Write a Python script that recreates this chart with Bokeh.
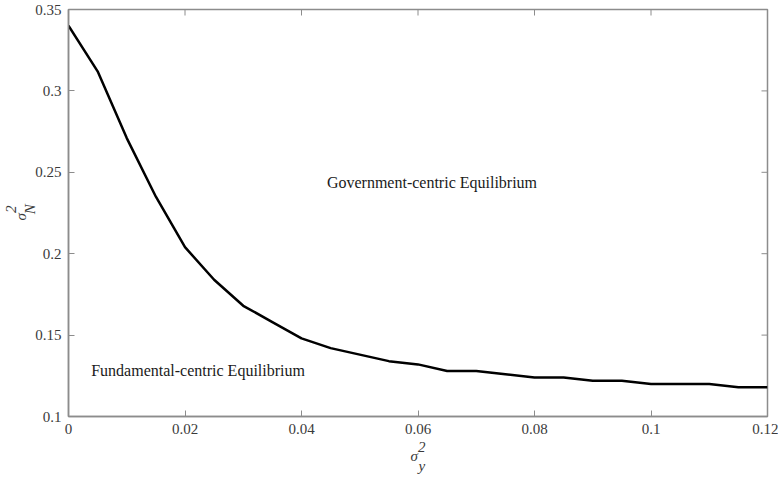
import numpy as np
from bokeh.plotting import figure
from bokeh.models import FixedTicker, Label, Range1d
from bokeh.embed import file_html
from bokeh.resources import INLINE

# ---- data ----
sigma_y2 = [0.0, 0.005, 0.01, 0.015, 0.02, 0.025, 0.03, 0.035, 0.04, 0.045, 0.05,
            0.055, 0.06, 0.065, 0.07, 0.075, 0.08, 0.085, 0.09, 0.095, 0.1,
            0.105, 0.11, 0.115, 0.12]
sigma_N2 = [0.340, 0.312, 0.271, 0.235, 0.204, 0.184, 0.168, 0.158, 0.148, 0.142, 0.138,
            0.134, 0.132, 0.128, 0.128, 0.126, 0.124, 0.124, 0.122, 0.122, 0.120,
            0.120, 0.120, 0.118, 0.118]
x_ticks = [0, 0.02, 0.04, 0.06, 0.08, 0.1, 0.12]
x_tick_labels = ["0", "0.02", "0.04", "0.06", "0.08", "0.1", "0.12"]
y_ticks = [0.1, 0.15, 0.2, 0.25, 0.3, 0.35]
y_tick_labels = ["0.1", "0.15", "0.2", "0.25", "0.3", "0.35"]
region_labels = ["Government-centric Equilibrium", "Fundamental-centric Equilibrium"]
NB = "\u00a0"
x_label = NB * 2 + "2\nσ" + NB * 2 + "\n" + NB * 2 + "y"
y_label = NB * 2 + "2\nσ" + NB * 2 + "\n" + NB * 2 + "N"

FONT = "Liberation Serif"
AXIS_GREY = "#8c8c8c"
LABEL_COLOR = "#3a3a3a"

W, H = 778, 480
p = figure(width=W, height=H, output_backend="svg", toolbar_location=None,
           x_range=Range1d(0, 0.12), y_range=Range1d(0.1, 0.35),
           min_border_left=67, min_border_right=W - 767, min_border_top=9,
           min_border_bottom=H - 416)
p.xgrid.visible = False
p.ygrid.visible = False
p.outline_line_color = AXIS_GREY
p.outline_line_width = 1.5


def style_axis(ax, ticks, labels, title, title_standoff):
    ax.ticker = FixedTicker(ticks=ticks)
    ax.major_label_overrides = {t: l for t, l in zip(ticks, labels)}
    ax.axis_line_color = AXIS_GREY
    ax.axis_line_width = 1.5
    ax.major_tick_line_color = AXIS_GREY
    ax.major_tick_in = 6
    ax.major_tick_out = 0
    ax.minor_tick_line_color = None
    ax.major_label_text_font = FONT
    ax.major_label_text_color = LABEL_COLOR
    ax.major_label_text_font_size = "15px"
    ax.major_label_standoff = 7
    ax.axis_label = title
    ax.axis_label_text_font = FONT
    ax.axis_label_text_font_size = "15px"
    ax.axis_label_text_font_style = "italic"
    ax.axis_label_text_color = LABEL_COLOR
    ax.axis_label_text_line_height = 0.6
    ax.axis_label_standoff = title_standoff


style_axis(p.xaxis[0], x_ticks, x_tick_labels, x_label, 2)
style_axis(p.yaxis[0], y_ticks, y_tick_labels, y_label, -6)

# inward ticks on the top and right edges of the box
p.ray(x=x_ticks, y=[0.35] * len(x_ticks), length=6, length_units="screen",
      angle=-np.pi / 2, line_color=AXIS_GREY, line_width=1)
p.ray(x=[0.12] * len(y_ticks), y=y_ticks, length=6, length_units="screen",
      angle=np.pi, line_color=AXIS_GREY, line_width=1)

p.line(sigma_y2, sigma_N2, line_color="black", line_width=2.5)

# region annotations
p.add_layout(Label(x=0.0624, y=0.2435, text=region_labels[0], text_font=FONT,
                   text_font_size="16px", text_color="#1a1a1a",
                   text_align="center", text_baseline="middle"))
p.add_layout(Label(x=0.0039, y=0.1283, text=region_labels[1], text_font=FONT,
                   text_font_size="16px", text_color="#1a1a1a",
                   text_align="left", text_baseline="middle"))

open("out.html", "w").write(file_html(p, INLINE))
